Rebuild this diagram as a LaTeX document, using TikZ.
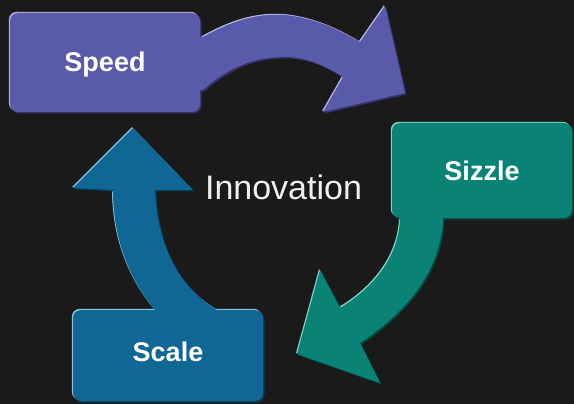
\documentclass[tikz,border=0pt]{standalone}
\usepackage{fontspec}
\setmainfont{Liberation Sans}
\usetikzlibrary{shadows}
\definecolor{bg}{HTML}{1A1A1A}
\definecolor{speedcol}{HTML}{5A5AAA}
\definecolor{speedlight}{HTML}{B4B4E2}
\definecolor{speeddark}{HTML}{34346A}
\definecolor{sizzlecol}{HTML}{0A8376}
\definecolor{sizzlelight}{HTML}{86D2C6}
\definecolor{sizzledark}{HTML}{054840}
\definecolor{scalecol}{HTML}{106694}
\definecolor{scalelight}{HTML}{8CC2DE}
\definecolor{scaledark}{HTML}{093A58}
\begin{document}
\begin{tikzpicture}[x=1pt,y=-1pt,
  lightshade/.style={fill=#1, xshift=-1pt, yshift=1pt},
  darkshade/.style={fill=#1, xshift=1.5pt, yshift=-1.5pt},
  boxnode/.style n args={3}{rounded corners=8pt, fill=#1,
    general shadow={fill=#2, shadow xshift=-1.2pt, shadow yshift=1.2pt},
    general shadow={fill=#3, shadow xshift=1.5pt, shadow yshift=-1.5pt},
    text=white, inner sep=0pt,
    font=\fontsize{27}{27}\selectfont\bfseries, text height=19.3pt}]
\fill[bg] (0,0) rectangle (574,404);
\useasboundingbox (0,0) rectangle (574,404);

\def\speedarrow{(195,37) -- (203,37) .. controls (230,22) and (255,13) .. (285,15) .. controls (315,18) and (340,30) .. (360,42) -- (385,6) -- (405,93) -- (323,112) -- (343,77) .. controls (320,62) and (300,56) .. (280,57) .. controls (250,58) and (225,70) .. (203,90) -- (195,90) -- cycle}
\def\sizzlearrow{(400,213) -- (443,213) -- (443,220) .. controls (441,262) and (417,305) .. (360,343) -- (380,383) -- (297,354) -- (320,270) -- (340,308) .. controls (370,290) and (398,260) .. (400,220) -- cycle}
\def\scalearrow{(155,314) -- (155,310) .. controls (130,280) and (113,240) .. (113,190) -- (73,188) -- (133,128) -- (193,190) -- (155,190) .. controls (157,240) and (175,285) .. (217,310) -- (217,314) -- cycle}

% arrow shading underneath
\fill[lightshade=speedlight] \speedarrow;
\fill[darkshade=speeddark] \speedarrow;
\fill[lightshade=sizzlelight] \sizzlearrow;
\fill[darkshade=sizzledark] \sizzlearrow;
\fill[lightshade=scalelight] \scalearrow;
\fill[darkshade=scaledark] \scalearrow;

% boxes
\node[boxnode={speedcol}{speedlight}{speeddark}, minimum width=190pt, minimum height=99pt, text depth=1pt] (speed) at (105,62.5) {Speed};
\node[boxnode={sizzlecol}{sizzlelight}{sizzledark}, minimum width=180pt, minimum height=95pt, text depth=0pt] (sizzle) at (482,170.5) {Sizzle};
\node[boxnode={scalecol}{scalelight}{scaledark}, minimum width=190pt, minimum height=91pt, text depth=8pt] (scale) at (168,355.5) {Scale};

% arrow bodies
\fill[speedcol] \speedarrow;
\fill[sizzlecol] \sizzlearrow;
\fill[scalecol] \scalearrow;

\node[text=white!94!black, font=\fontsize{34}{34}\selectfont, inner sep=0pt, anchor=base] (innov) at (283.5,200) {Innovation};
\end{tikzpicture}
\end{document}
